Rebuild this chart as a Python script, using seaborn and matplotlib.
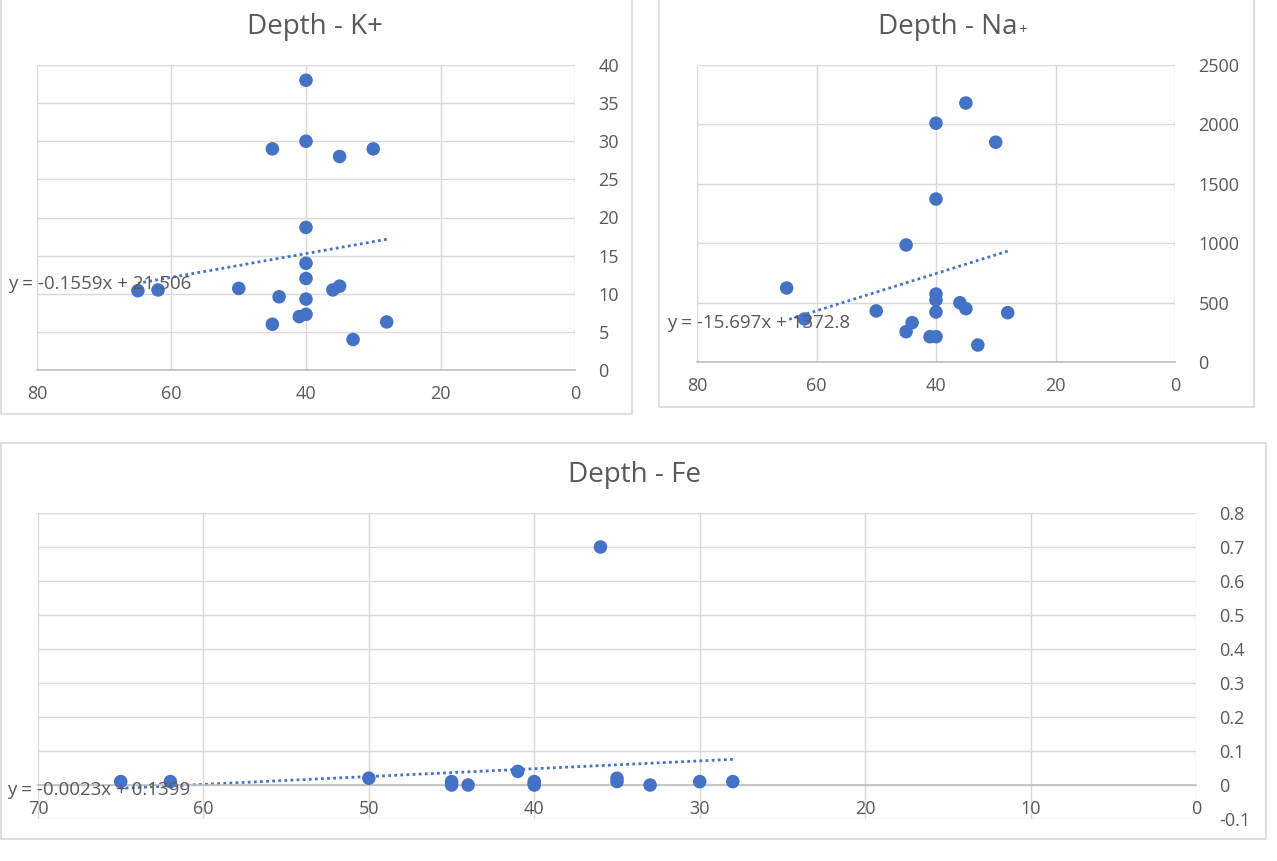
import numpy as np
import matplotlib
matplotlib.use('Agg')
import matplotlib.pyplot as plt
import matplotlib.patches as patches
from matplotlib.ticker import FuncFormatter
import seaborn as sn

"""three excel-like depth scatter charts with dotted linear trendlines"""

# depth - K+
k_depth = [40, 45, 40, 35, 30, 40, 40, 40, 65, 62, 50, 44, 40, 36, 35, 41, 40, 45, 28, 33]
k_vals = [38, 29, 30, 28, 29, 18.7, 14, 12, 10.4, 10.5, 10.7, 9.6, 9.3, 10.5, 11, 7, 7.3, 6, 6.3, 4]
k_fit = (-0.1559, 21.506)
k_eq = 'y = -0.1559x + 21.506'

# depth - Na+
na_depth = [35, 40, 30, 40, 45, 65, 62, 50, 44, 45, 40, 40, 40, 36, 35, 28, 41, 40, 33]
na_vals = [2180, 2010, 1850, 1372, 985, 623, 362, 430, 331, 255, 572, 522, 421, 499, 449, 415, 213, 213, 143]
na_fit = (-15.697, 1372.8)
na_eq = 'y = -15.697x + 1372.8'

# depth - Fe
fe_depth = [65, 62, 50, 45, 45, 44, 41, 40, 40, 40, 36, 35, 35, 33, 30, 28]
fe_vals = [0.01, 0.01, 0.02, 0.01, 0.0, 0.0, 0.04, 0.01, 0.0, 0.005, 0.7, 0.02, 0.01, 0.0, 0.01, 0.01]
fe_fit = (-0.0023, 0.1399)
fe_eq = 'y = -0.0023x + 0.1399'

W, H = 1277, 861
blue = '#4472c4'
grey_txt = '#595959'

sn.set_theme(style='white')
plt.rcParams['font.family'] = ['Open Sans', 'DejaVu Sans']
plt.rcParams['axes.unicode_minus'] = False


def px_axes(fig, left, top, right, bottom):
    return fig.add_axes([left / W, 1 - bottom / H, (right - left) / W, (bottom - top) / H])


def px_box(fig, left, top, right, bottom):
    fig.add_artist(patches.Rectangle((left / W, 1 - bottom / H), (right - left) / W, (bottom - top) / H,
                                     transform=fig.transFigure, fill=False, edgecolor='#d9d9d9', lw=1.2))


def draw_panel(ax, depth, vals, fit, xmax, xstep, ymin, ymax, ystep, title, tx, ty):
    sn.scatterplot(x=depth, y=vals, ax=ax, color=blue, s=95, edgecolor='none', zorder=3, legend=False)
    xs = np.array([min(depth), max(depth)])
    ax.plot(xs, fit[0] * xs + fit[1], color=blue, lw=2, ls=(0, (1, 1.2)), zorder=2)
    ax.set_xlim(xmax, 0)
    ax.set_ylim(ymin, ymax)
    ax.set_xticks(np.arange(0, xmax + 0.001, xstep))
    ax.set_yticks(np.arange(ymin, ymax + ystep / 2, ystep))
    ax.yaxis.set_major_formatter(FuncFormatter(lambda v, p: f'{round(v, 4):g}'))
    ax.yaxis.tick_right()
    ax.grid(True, color='#d9d9d9', lw=1)
    ax.set_axisbelow(True)
    for s in ['top', 'left', 'right']:
        ax.spines[s].set_visible(False)
    ax.spines['bottom'].set_color('#bfbfbf')
    ax.spines['bottom'].set_linewidth(1.2)
    ax.spines['bottom'].set_position(('data', 0))
    ax.tick_params(length=0, labelsize=13, colors=grey_txt)
    ax.tick_params(axis='x', pad=11)
    ax.tick_params(axis='y', pad=17)
    ax.set_xlabel('')
    ax.set_ylabel('')
    return ax.text(tx, ty, title, transform=ax.transAxes, ha='center', va='center',
                   fontsize=20, color=grey_txt)


fig = plt.figure(figsize=(W / 100, H / 100), dpi=100)
fig.patch.set_facecolor('white')

px_box(fig, 1, -2, 632, 414)
px_box(fig, 659, -2, 1254, 407)
px_box(fig, 1, 443, 1266, 839)

ax1 = px_axes(fig, 37, 65, 575, 370)
draw_panel(ax1, k_depth, k_vals, k_fit, 80, 20, 0, 40, 5, 'Depth - K+', 0.517, 1.125)
fig.text(8 / W, 1 - 284 / H, k_eq, ha='left', va='center', fontsize=13.5, color=grey_txt)

ax2 = px_axes(fig, 697, 65, 1175, 362)
t2 = draw_panel(ax2, na_depth, na_vals, na_fit, 80, 20, 0, 2500, 500, 'Depth - Na', 0.525, 1.128)
ax2.annotate('+', xy=(1.0, 0.38), xycoords=t2, ha='left', va='center', fontsize=11, color=grey_txt)
fig.text(667 / W, 1 - 323 / H, na_eq, ha='left', va='center', fontsize=13.5, color=grey_txt)

ax3 = px_axes(fig, 38, 513, 1196, 819)
draw_panel(ax3, fe_depth, fe_vals, fe_fit, 70, 10, -0.1, 0.8, 0.1, 'Depth - Fe', 0.515, 1.124)
fig.text(7 / W, 1 - 790 / H, fe_eq, ha='left', va='center', fontsize=13.5, color=grey_txt)

plt.savefig('out.png', dpi=100, facecolor='white')
plt.close()
